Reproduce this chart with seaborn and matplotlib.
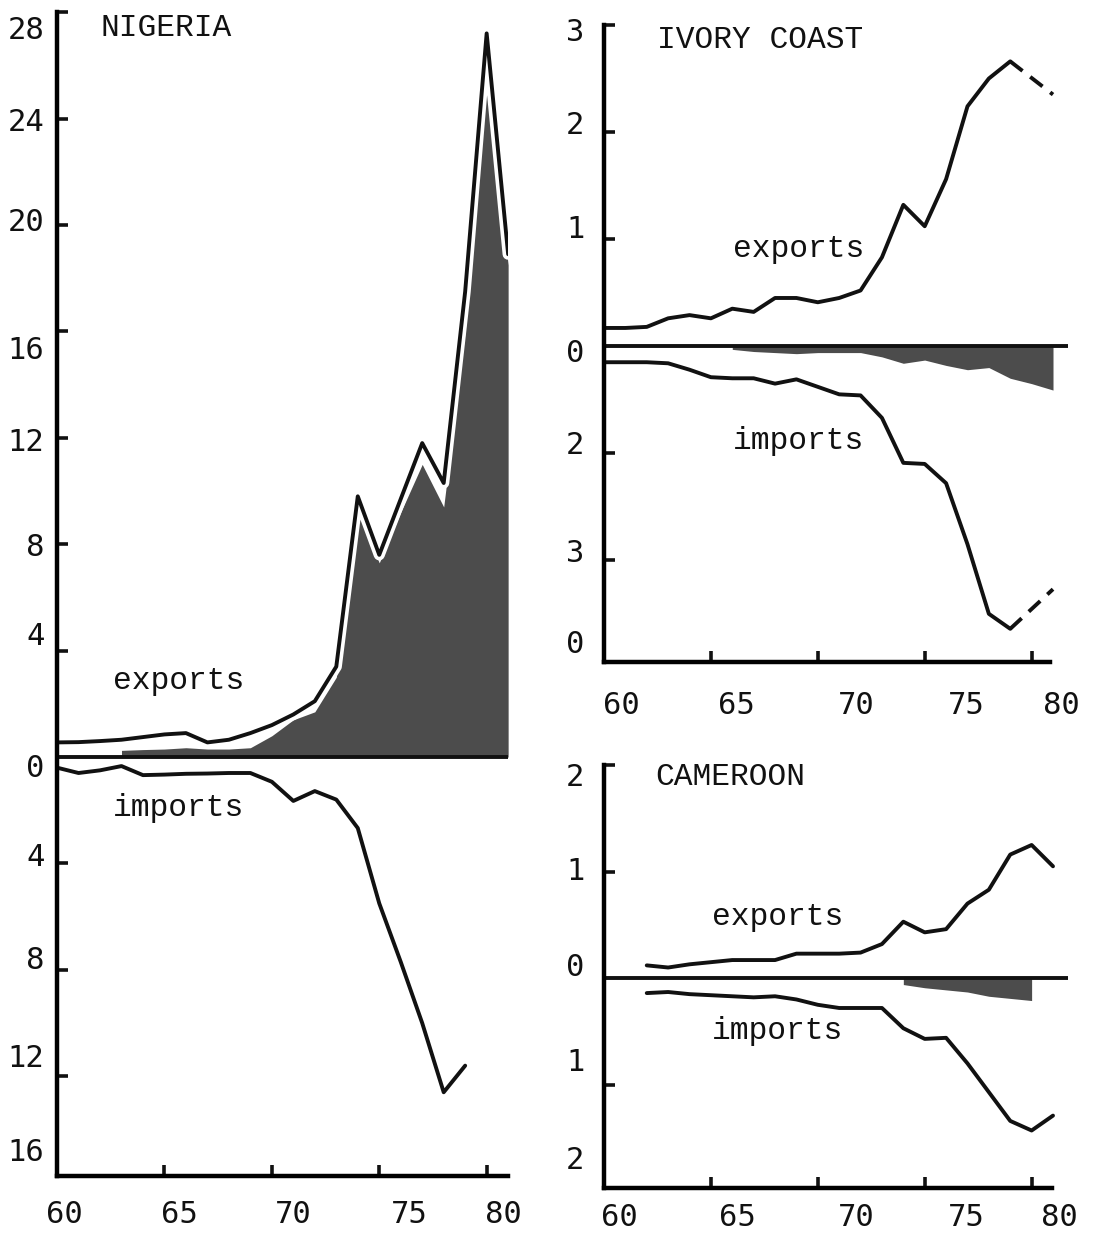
import numpy as np
import matplotlib
matplotlib.use("Agg")
import matplotlib.pyplot as plt
import matplotlib.patheffects as pe
import seaborn as sns

# --- data, values in billion $ ---
ng_years = [60, 61, 62, 63, 64, 65, 66, 67, 68, 69, 70,
            71, 72, 73, 74, 75, 76, 77, 78, 79, 80, 81]
ng_exports = [0.55, 0.56, 0.6, 0.65, 0.75, 0.85, 0.9, 0.55, 0.65, 0.9, 1.2,
              1.6, 2.1, 3.4, 9.8, 7.6, 9.7, 11.8, 10.3, 17.5, 27.2, 18.9]
ng_imp_years = ng_years[:20]
ng_imports = [-0.4, -0.6, -0.5, -0.34, -0.68, -0.66, -0.63, -0.62, -0.6, -0.6,
              -0.93, -1.65, -1.28, -1.6, -2.67, -5.5, -7.7, -10.0, -12.6, -11.6]
ng_shade_years = ng_years[3:]
ng_shaded = [0.25, 0.28, 0.3, 0.35, 0.3, 0.3, 0.35, 0.8, 1.4, 1.7,
             3.0, 9.2, 7.3, 9.2, 11.0, 9.4, 16.0, 25.5, 18.5]

ic_years = [60, 61, 62, 63, 64, 65, 66, 67, 68, 69,
            70, 71, 72, 73, 74, 75, 76, 77, 78, 79]
ic_exports = [0.17, 0.17, 0.18, 0.26, 0.29, 0.26, 0.35, 0.32, 0.45, 0.45,
              0.41, 0.45, 0.52, 0.83, 1.32, 1.12, 1.56, 2.24, 2.50, 2.66]
ic_imports = [-0.15, -0.15, -0.15, -0.16, -0.22, -0.29, -0.30, -0.30, -0.35, -0.31,
              -0.38, -0.45, -0.46, -0.67, -1.09, -1.10, -1.28, -1.85, -2.50, -2.64]
ic_est_years = [79, 81]
ic_exports_est = [2.66, 2.35]
ic_imports_est = [-2.64, -2.27]
ic_shade_years = [66, 67, 68, 69, 70, 71, 72, 73, 74, 75, 76, 77, 78, 79, 80, 81]
ic_shaded = [-0.03, -0.05, -0.06, -0.07, -0.06, -0.06, -0.06, -0.10,
             -0.16, -0.13, -0.18, -0.22, -0.20, -0.30, -0.35, -0.41]

cm_years = [62, 63, 64, 65, 66, 67, 68, 69, 70, 71,
            72, 73, 74, 75, 76, 77, 78, 79, 80, 81]
cm_exports = [0.12, 0.10, 0.13, 0.15, 0.17, 0.17, 0.17, 0.23, 0.23, 0.23,
              0.24, 0.32, 0.53, 0.43, 0.46, 0.70, 0.83, 1.16, 1.25, 1.05]
cm_imports = [-0.14, -0.13, -0.15, -0.16, -0.17, -0.18, -0.17, -0.20, -0.25, -0.28,
              -0.28, -0.28, -0.47, -0.57, -0.56, -0.80, -1.07, -1.34, -1.43, -1.29]
cm_shade_years = [74, 75, 76, 77, 78, 79, 80]
cm_shaded = [-0.06, -0.09, -0.11, -0.13, -0.17, -0.19, -0.21]

x_ticks = [65, 70, 75, 80]
x_labels = ["60", "65", "70", "75", "80"]

ng_yticks = [28, 24, 20, 16, 12, 8, 4, -4, -8, -12]
ng_ylabels = ["28", "24", "20", "16", "12", "8", "4", "0", "4", "8", "12", "16"]
ic_yticks = [3, 2, 1, -1, -2]
ic_ylabels = ["3", "2", "1", "0", "2", "3", "0"]
cm_yticks = [2, 1, -1]
cm_ylabels = ["2", "1", "0", "1", "2"]

sns.set_theme(style="white")
plt.rcParams.update({
    "font.family": ["DejaVu Sans Mono"],
    "axes.linewidth": 3.2,
    "axes.edgecolor": "black",
})

INK = "#111111"
SHADE = "#4c4c4c"
LW = 2.8
WORD_FONT = ["Liberation Mono", "DejaVu Sans Mono"]

fig = plt.figure(figsize=(10.93, 12.36), dpi=100)
ax_ng = fig.add_axes([0.0522, 0.0485, 0.4127, 0.9417])
ax_ic = fig.add_axes([0.5526, 0.4644, 0.4245, 0.5154])
ax_cm = fig.add_axes([0.5526, 0.0388, 0.4245, 0.3422])


def style(ax, ylim, xlim, yticks, ylab_pos, ylabels, xlab_pos, ypad, xpad, xend):
    ax.set_xlim(*xlim)
    ax.set_ylim(*ylim)
    for s in ["top", "right"]:
        ax.spines[s].set_visible(False)
    for s in ["left", "bottom"]:
        ax.spines[s].set_zorder(6)
    ax.spines["bottom"].set_bounds(xlim[0], xend)
    ax.set_yticks(yticks, labels=[""] * len(yticks))
    ax.set_xticks(x_ticks, labels=[""] * len(x_ticks))
    ax.set_yticks(ylab_pos, labels=ylabels, minor=True)
    ax.set_xticks(xlab_pos, labels=x_labels, minor=True)
    ax.tick_params(which="both", left=True, bottom=True)
    ax.tick_params(which="major", direction="in", length=8, width=2.6, color=INK)
    ax.tick_params(which="minor", length=0, labelsize=22, labelcolor=INK)
    ax.tick_params(axis="y", which="minor", pad=ypad)
    ax.tick_params(axis="x", which="minor", pad=xpad)
    ax.axhline(0, color=INK, lw=LW, zorder=3)
    ax.set_xlabel("")
    ax.set_ylabel("")


def label(ax, x, y, s):
    ax.text(x, y, s, ha="left", va="center", fontsize=22.5,
            family=WORD_FONT, color=INK)


halo = [pe.Stroke(linewidth=8, foreground="white"), pe.Normal()]

# --- Nigeria ---
ax_ng.fill_between(ng_shade_years, 0, ng_shaded, color=SHADE, lw=0, zorder=1)
sns.lineplot(x=ng_years, y=ng_exports, ax=ax_ng, color=INK, lw=LW,
             path_effects=halo, zorder=4)
sns.lineplot(x=ng_imp_years, y=ng_imports, ax=ax_ng, color=INK, lw=LW, zorder=4)
style(ax_ng, (-15.75, 28), (60, 81.0), ng_yticks,
      [27.44, 23.95, 20.19, 15.41, 11.92, 7.97, 4.66, -0.32, -3.65, -7.52, -11.2, -14.77],
      ng_ylabels, [60.33, 65.68, 70.99, 76.39, 80.76], 9, 17, 81.0)
label(ax_ng, 62.0, 27.4, "NIGERIA")
label(ax_ng, 62.6, 2.86, "exports")
label(ax_ng, 62.6, -1.92, "imports")

# --- Ivory Coast ---
ax_ic.fill_between(ic_shade_years, 0, ic_shaded, color=SHADE, lw=0, zorder=1)
sns.lineplot(x=ic_years, y=ic_exports, ax=ax_ic, color=INK, lw=LW, zorder=4)
sns.lineplot(x=ic_years, y=ic_imports, ax=ax_ic, color=INK, lw=LW, zorder=4)
sns.lineplot(x=ic_est_years, y=ic_exports_est, ax=ax_ic, color=INK, lw=LW,
             linestyle=(0, (4, 2.5)), zorder=4)
sns.lineplot(x=ic_est_years, y=ic_imports_est, ax=ax_ic, color=INK, lw=LW,
             linestyle=(0, (4, 2.5)), zorder=4)
style(ax_ic, (-2.95, 3.0), (60, 81.7), ic_yticks,
      [2.96, 2.09, 1.12, -0.04, -0.90, -1.91, -2.76],
      ic_ylabels, [60.79, 66.21, 71.82, 76.96, 81.40], 14, 21, 80.85)
label(ax_ic, 62.48, 2.86, "IVORY COAST")
label(ax_ic, 66.03, 0.91, "exports")
label(ax_ic, 66.03, -0.89, "imports")

# --- Cameroon ---
ax_cm.fill_between(cm_shade_years, 0, cm_shaded, color=SHADE, lw=0, zorder=1)
sns.lineplot(x=cm_years, y=cm_exports, ax=ax_cm, color=INK, lw=LW, zorder=4)
sns.lineplot(x=cm_years, y=cm_imports, ax=ax_cm, color=INK, lw=LW, zorder=4)
style(ax_cm, (-1.97, 2.0), (60, 81.7), cm_yticks,
      [1.91, 1.03, 0.13, -0.76, -1.68],
      cm_ylabels, [60.70, 66.24, 71.82, 76.96, 81.31], 14, 11, 80.95)
label(ax_cm, 62.38, 1.89, "CAMEROON")
label(ax_cm, 65.05, 0.57, "exports")
label(ax_cm, 65.05, -0.50, "imports")

fig.savefig("out.png", dpi=100)
